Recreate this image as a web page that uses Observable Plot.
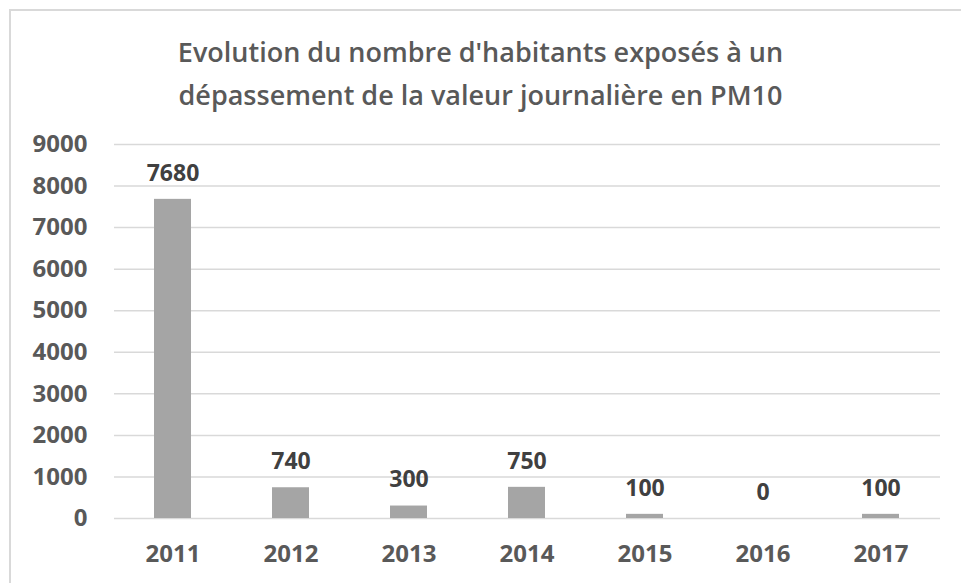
<!DOCTYPE html>
<html>
<head>
<meta charset="utf-8">
<script src="https://cdn.jsdelivr.net/npm/d3@7"></script>
<script src="https://cdn.jsdelivr.net/npm/@observablehq/plot@0.6"></script>
<style>
  html, body { margin: 0; padding: 0; background: #fff; }
  body { width: 961px; height: 583px; overflow: hidden; position: relative; font-family: "Open Sans", sans-serif; }
  #frame { position: absolute; left: 9px; top: 9px; width: 1000px; height: 700px;
           border-left: 2px solid #D9D9D9; border-top: 2px solid #D9D9D9; }
  #title { position: absolute; left: 0; top: 30px; width: 961px; text-align: center;
           color: #595959; font-size: 27px; font-weight: 600; line-height: 43px; }
  #chart { position: absolute; left: 0; top: 125px; }
</style>
</head>
<body>
<div id="frame"></div>
<div id="title">Evolution du nombre d'habitants exposés à un<br>dépassement de la valeur journalière en PM10</div>
<div id="chart"></div>
<script>
const years = ["2011", "2012", "2013", "2014", "2015", "2016", "2017"];
const habitants = [7680, 740, 300, 750, 100, 0, 100];
const yTicks = [0, 1000, 2000, 3000, 4000, 5000, 6000, 7000, 8000, 9000];

const data = years.map((y, i) => ({year: y, value: habitants[i]}));

const chart = Plot.plot({
  width: 961,
  height: 458,
  marginLeft: 114,
  marginRight: 21,
  marginTop: 19,
  marginBottom: 65,
  style: {fontFamily: "Open Sans, sans-serif", background: "transparent", overflow: "visible"},
  x: {domain: years, paddingInner: 0.685, paddingOuter: 0.3425, label: null},
  y: {domain: [0, 9000], label: null},
  marks: [
    Plot.gridY(yTicks, {stroke: "#D9D9D9", strokeOpacity: 1, strokeWidth: 1.5}),
    Plot.barY(data, {x: "year", y: "value", fill: "#A5A5A5"}),
    Plot.text(data, {x: "year", y: "value", text: d => String(d.value), dy: -26,
      fill: "#404040", fontSize: 23, fontWeight: 700}),
    Plot.axisY(yTicks, {tickSize: 0, tickPadding: 0, dx: -27, fontSize: 24, fontWeight: 700,
      fill: "#595959", tickFormat: d => String(d), label: null}),
    Plot.axisX(years, {tickSize: 0, tickPadding: 26, fontSize: 24, fontWeight: 700,
      fill: "#595959", label: null})
  ]
});
document.getElementById("chart").appendChild(chart);
</script>
</body>
</html>
